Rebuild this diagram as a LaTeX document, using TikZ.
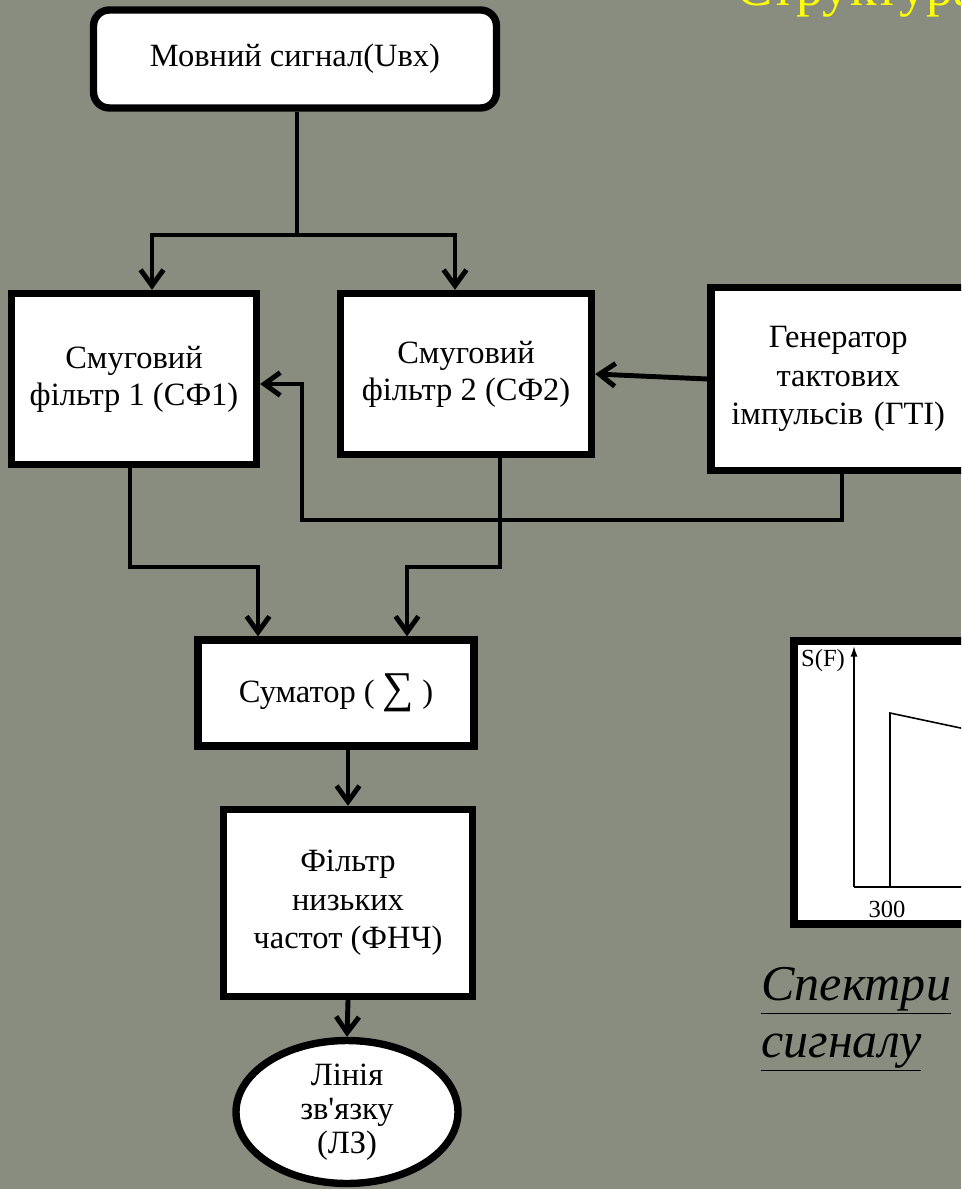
\documentclass[tikz,border=0pt]{standalone}
\usepackage{fontspec}
\setmainfont{Liberation Serif}
\usepackage{tikz}
\usetikzlibrary{shapes.geometric, arrows.meta, positioning}
\definecolor{slidebg}{RGB}{136, 141, 127}
\definecolor{titleyellow}{RGB}{255, 255, 0}

\begin{document}
\begin{tikzpicture}[
  x=0.02cm, y=-0.02cm,
  block/.style={rectangle, draw=black, fill=white, line width=4.2pt, align=center,
                font=\fontsize{18.5}{21}\selectfont, inner sep=2pt},
  wire/.style={line width=2.8pt},
  arr/.style={wire, -{Straight Barb[length=9pt, width=13pt]}},
  caption/.style={font=\itshape\fontsize{28.5}{32}\selectfont, anchor=base west, inner sep=0pt},
]
  % --- canvas ---
  \useasboundingbox (0,0) rectangle (961,1189);
  \clip (0,0) rectangle (961,1189);
  \fill[slidebg] (0,0) rectangle (961,1189);

  % title, mostly above the page
  \node[titleyellow, font=\fontsize{31}{36}\selectfont, anchor=base west, inner sep=0pt]
    (title) at (736,6) {Структура};

  % --- blocks ---
  \node[block, rounded corners=9pt, minimum width=8.06cm, minimum height=1.96cm]
    (src) at (295,59) {Мовний сигнал(Uвх)};
  \node[block, minimum width=4.9cm, minimum height=3.42cm]
    (bpf1) at (134,379) {Смуговий\\фільтр 1 (СФ1)};
  \node[block, minimum width=5.02cm, minimum height=3.22cm]
    (bpf2) at (466,374) {Смуговий\\фільтр 2 (СФ2)};
  \node[block, minimum width=5.24cm, minimum height=3.66cm, text width=4.8cm,
        font=\fontsize{18.5}{22}\selectfont]
    (gen) at (842,379) {\hspace*{-0.15cm}Генератор\\\hspace*{-0.15cm}тактових\\\hspace*{-0.15cm}імпульсів (ГТІ)};
  \node[block, minimum width=5.52cm, minimum height=2.12cm]
    (sum) at (336,693) {Суматор ( {\fontsize{25}{25}\selectfont ∑} )};
  \node[block, minimum width=4.98cm, minimum height=3.74cm,
        font=\fontsize{18.5}{22}\selectfont]
    (lpf) at (348,903) {Фільтр\\низьких\\частот (ФНЧ)};
  \node[block, ellipse, inner sep=0pt, minimum width=4.44cm, minimum height=2.86cm,
        font=\fontsize{18.5}{19.5}\selectfont]
    (line) at (347,1112) {Лінія\\зв\textquotesingle язку\\(ЛЗ)};

  % --- bend points ---
  \coordinate (split) at (297,235);
  \coordinate (tap1) at (152,235);
  \coordinate (tap2) at (455,235);
  \coordinate (fb) at (302,520);
  \coordinate (m1) at (258,567);
  \coordinate (d2) at (500,567);
  \coordinate (m2) at (407,567);

  % --- connectors ---
  \draw[wire] (src.south -| split) -- (split);
  \draw[arr] (split) -- (tap1) -- (tap1 |- bpf1.north);
  \draw[arr] (split) -- (tap2) -- (tap2 |- bpf2.north);
  \draw[arr] (gen.west) -- (bpf2.east);
  \draw[arr] (gen.south) |- (fb) |- ([yshift=-0.1cm]bpf1.east);
  \draw[arr] (bpf1.south -| 130,0) |- (m1) -- (m1 |- sum.north);
  \draw[arr] (bpf2.south -| d2) -- (d2) -- (m2) -- (m2 |- sum.north);
  \draw[arr] (sum.south -| lpf.north) -- (lpf.north);
  \draw[arr] (lpf.south) -- (line.north);

  % --- spectrum sketch (cut at the right edge) ---
  \draw[fill=white, line width=4.5pt] (794,641) rectangle (1000,924);
  \draw[line width=0.9pt, -{Latex[length=6pt, width=4pt]}] (854,887) -- (854,646);
  \draw[line width=0.9pt] (854,887) -- (970,887);
  \draw[line width=0.9pt] (890,887) -- (890,713) -- (970,730);
  \node[font=\fontsize{14}{16}\selectfont, inner sep=0pt] (sf) at (823,661) {S(F)};
  \node[font=\fontsize{14}{16}\selectfont, inner sep=0pt] (f300) at (887,909) {300};

  % caption
  \node[caption] (cap1) at (761,1000) {\underline{Спектри}};
  \node[caption] (cap2) at (761,1057) {\underline{сигналу}};
\end{tikzpicture}
\end{document}
